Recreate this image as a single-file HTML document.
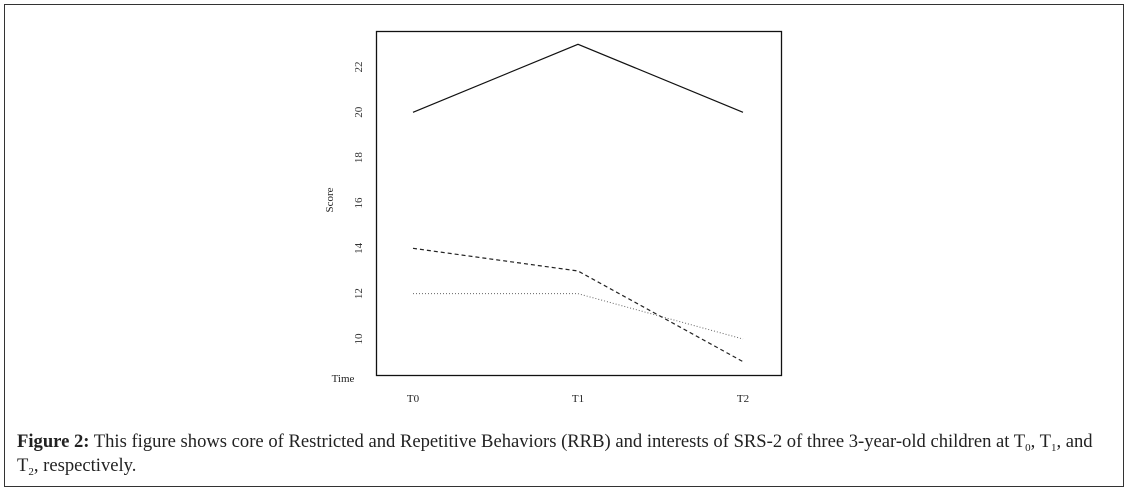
<!DOCTYPE html>
<html><head><meta charset="utf-8"><style>
body{margin:0;width:1129px;height:493px;background:#fff;position:relative;overflow:hidden;font-family:"Liberation Serif",serif}
#frame{position:absolute;left:4px;top:4px;width:1118px;height:481px;border:1px solid #333}
#cap{position:absolute;left:17px;top:430px;width:1092px;font-size:18.6px;line-height:24px;color:#222}
sub{font-size:11px;vertical-align:baseline;position:relative;top:4px;line-height:0}
</style></head><body>
<div id="frame"></div>
<svg id="chart" width="1129" height="420" style="position:absolute;left:0;top:0" font-family="Liberation Serif, serif"></svg>
<div id="cap"><b>Figure 2:</b> This figure shows core of Restricted and Repetitive Behaviors (RRB) and interests of SRS-2 of three 3-year-old children at T<sub>0</sub>, T<sub>1</sub>, and T<sub>2</sub>, respectively.</div>
<script>
const categories=["T0","T1","T2"];
const child1=[20,23,20];
const child2=[14,13,9];
const child3=[12,12,10];
const yTicks=[10,12,14,16,18,20,22];
const svg=document.getElementById('chart');
const NS='http://www.w3.org/2000/svg';
function x(i){return 413+i*165;}
function y(v){return 339-(v-10)*22.67;}
function mk(t,a){const e=document.createElementNS(NS,t);for(const k in a)e.setAttribute(k,a[k]);svg.appendChild(e);return e;}
const box=mk('rect',{x:376.5,y:31.5,width:405,height:344,fill:'none',stroke:'#111','stroke-width':1.3});


yTicks.forEach(v=>{const t=mk('text',{x:0,y:0,transform:`translate(362,${y(v)}) rotate(-90)`,'text-anchor':'middle','font-size':11,fill:'#333'});t.textContent=v;

});
categories.forEach((c,i)=>{const t=mk('text',{x:x(i),y:402,'text-anchor':'middle','font-size':11,fill:'#222'});t.textContent=c;

});
const yl=mk('text',{x:0,y:0,transform:'translate(333,200) rotate(-90)','text-anchor':'middle','font-size':11,fill:'#222'});yl.textContent='Score';


const xl=mk('text',{x:343,y:382,'text-anchor':'middle','font-size':11,fill:'#222'});xl.textContent='Time';


[[child1,'','#111',1.2,'series-child-1'],[child2,'4,3','#222',1.2,'series-child-2'],[child3,'1,2','#666',1,'series-child-3']].forEach(s=>{
const p=mk('polyline',{points:s[0].map((v,i)=>x(i)+','+y(v)).join(' '),fill:'none',stroke:s[2],'stroke-width':s[3],'stroke-dasharray':s[1]});

});
</script>
</body></html>
